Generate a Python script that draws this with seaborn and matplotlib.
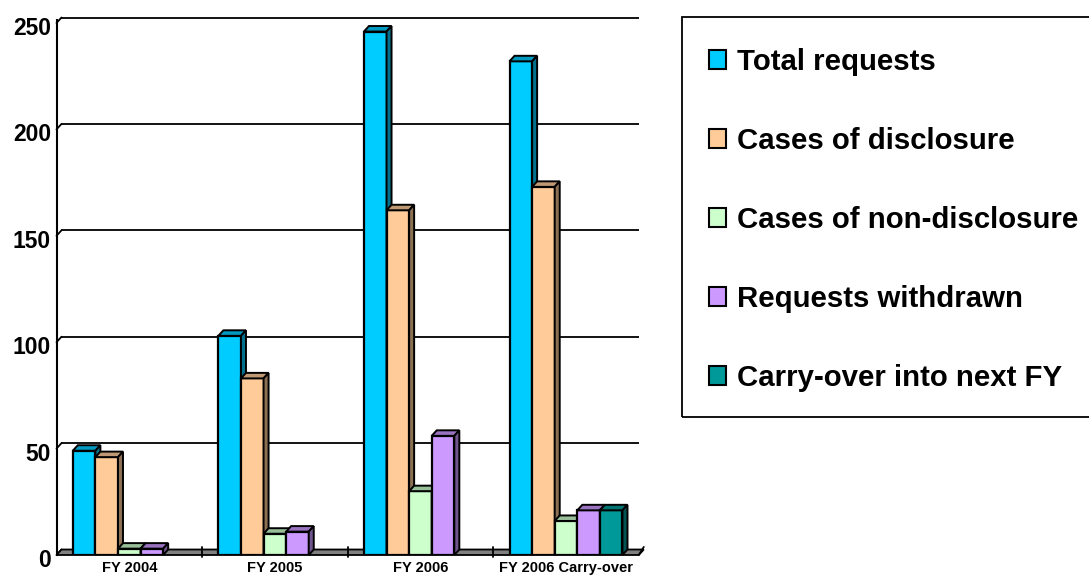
import matplotlib
matplotlib.use("Agg")
import matplotlib.pyplot as plt
import numpy as np
import pandas as pd
import seaborn as sns
from matplotlib.patches import Polygon, Rectangle
from matplotlib.colors import to_rgb
from matplotlib.font_manager import FontProperties
from matplotlib.transforms import ScaledTranslation

# --- data -------------------------------------------------------------
years = ["FY 2004", "FY 2005", "FY 2006", "FY 2006 Carry-over"]
series = ["Total requests", "Cases of disclosure", "Cases of non-disclosure",
          "Requests withdrawn", "Carry-over into next FY"]
total_requests = [49, 103, 246, 232]
cases_disclosed = [46, 83, 162, 173]
cases_not_disclosed = [3, 10, 30, 16]
requests_withdrawn = [3, 11, 56, 21]
carried_over = [0, 0, 0, 21]
y_ticks = [0, 50, 100, 150, 200, 250]

colors = ["#00CCFF", "#FFCC99", "#CCFFCC", "#CC99FF", "#009999"]

df = pd.DataFrame({
    "year": np.repeat(years, len(series)),
    "series": series * len(years),
    "count": np.ravel(np.column_stack([total_requests, cases_disclosed,
                                       cases_not_disclosed, requests_withdrawn,
                                       carried_over])),
})

# --- figure geometry (pixels at 100 dpi) ------------------------------
W, H = 1089, 577
sns.set_style("white")
plt.rcParams["font.family"] = ["Liberation Sans", "DejaVu Sans"]
plt.rcParams["font.weight"] = "bold"
plt.rcParams["text.color"] = "black"
plt.rcParams["xtick.color"] = "black"
plt.rcParams["ytick.color"] = "black"
plt.rcParams["axes.labelcolor"] = "black"

fig = plt.figure(figsize=(W / 100, H / 100), dpi=100)
ax_l, ax_r, ax_b, ax_t = 56.5, 638.8, 555, 23
ax = fig.add_axes([ax_l / W, 1 - ax_b / H, (ax_r - ax_l) / W, (ax_b - ax_t) / H])

sns.barplot(data=df, x="year", y="count", hue="series", hue_order=series,
            order=years, palette=colors, saturation=1, width=0.776,
            edgecolor="black", linewidth=1.6, legend=False, ax=ax)

ax.set_xlim(-0.5, 3.5)
ax.set_ylim(0, 250)

# depth of the 3-D effect, in data units (5 px right, 5.5 px up)
px_x = 4.0 / (ax_r - ax_l)
px_y = 250.0 / (ax_b - ax_t)
dx, dy = 5 * px_x, 5.5 * px_y


def shade(c, f):
    r, g, b = to_rgb(c)
    return (r * f, g * f, b * f)


# extrude each bar: top cap and right side, layered left to right
bars = []
for ci, cont in enumerate(ax.containers):
    for p in cont.patches:
        bars.append((p.get_x(), ci, p))
bars.sort(key=lambda t: t[0])
for k, (_, ci, p) in enumerate(bars):
    x0, w, h = p.get_x(), p.get_width(), p.get_height()
    if h <= 0:
        p.set_visible(False)
        continue
    p.set_zorder(3 + 2 * k)
    base = colors[ci]
    cap = Polygon([(x0, h), (x0 + w, h), (x0 + w + dx, h + dy), (x0 + dx, h + dy)],
                  closed=True, facecolor=shade(base, 0.75), edgecolor="black",
                  linewidth=1.4, zorder=4 + 2 * k, clip_on=False)
    side = Polygon([(x0 + w, 0), (x0 + w, h), (x0 + w + dx, h + dy), (x0 + w + dx, dy)],
                   closed=True, facecolor=shade(base, 0.55), edgecolor="black",
                   linewidth=1.4, zorder=4 + 2 * k, clip_on=False)
    ax.add_patch(cap)
    ax.add_patch(side)

# back-wall gridlines and slanted tick connectors
for v in y_ticks[1:]:
    ax.plot([-0.5 + dx, 3.5], [v + dy, v + dy], color="black", lw=1.3,
            zorder=1, clip_on=False, solid_capstyle="butt")
for v in y_ticks:
    ax.plot([-0.5, -0.5 + dx], [v, v + dy], color="black", lw=1.3,
            zorder=1, clip_on=False)

# floor of the plot
floor = Polygon([(-0.5, 0), (3.5, 0), (3.5 + dx, dy), (-0.5 + dx, dy)], closed=True,
                facecolor="#808080", edgecolor="black", linewidth=1.3,
                zorder=1.5, clip_on=False)
ax.add_patch(floor)
for xb in [0.5, 1.5, 2.5]:
    ax.plot([xb, xb], [-0.8, dy + 1.2], color="black", lw=1.3, zorder=2,
            clip_on=False)
ax.plot([3.5, 3.5 + dx], [0, dy + 1.2], color="black", lw=1.3, zorder=2,
        clip_on=False)

# axes styling
for s in ["top", "right", "bottom"]:
    ax.spines[s].set_visible(False)
ax.spines["left"].set_linewidth(1.5)
ax.spines["left"].set_color("black")
ax.spines["left"].set_bounds(0, 250 + dy * 0.5)
ax.set_yticks(y_ticks)
ax.set_yticklabels([str(v) for v in y_ticks], fontsize=16.5, fontweight="bold")
ax.tick_params(axis="y", length=0, pad=4)
ax.tick_params(axis="x", length=0, pad=4)
ax.set_xticks(range(len(years)))
ax.set_xticklabels(years, fontsize=10.5, fontweight="bold")
for lab in ax.get_yticklabels():
    lab.set_transform(lab.get_transform() + ScaledTranslation(0, -0.03, fig.dpi_scale_trans))
ax.set_xlabel("")
ax.set_ylabel("")
ax.grid(False)

# legend
handles = [Rectangle((0, 0), 1, 1, facecolor=c, edgecolor="black", linewidth=1.5)
           for c in colors]
fig.legend(handles, series, loc="upper left",
           bbox_to_anchor=(709 / W, 1 - 48 / H), frameon=False,
           prop=FontProperties(family="Liberation Sans", weight="bold", size=21.2),
           handlelength=0.58, handleheight=0.58, handletextpad=0.36,
           labelspacing=1.73, borderpad=0, borderaxespad=0)
fig.patches.append(Rectangle((681.7 / W, 1 - 417 / H), (1100 - 681.7) / W,
                             (417 - 16.7) / H, transform=fig.transFigure,
                             fill=False, edgecolor="black", linewidth=1.3))

fig.savefig("out.png", dpi=100)
